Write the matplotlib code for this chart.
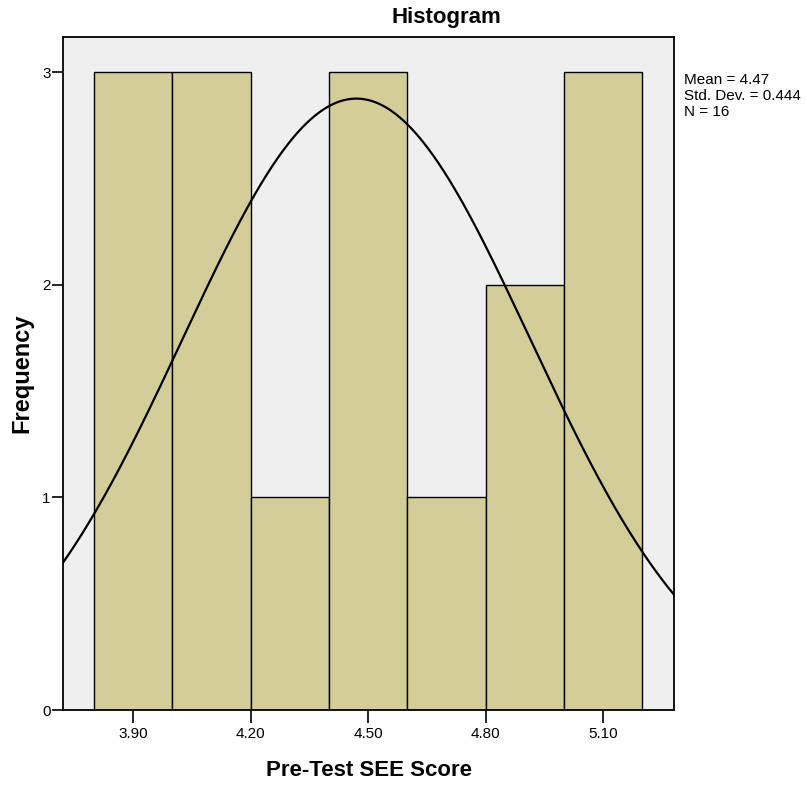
import numpy as np
import matplotlib
matplotlib.use('Agg')
import matplotlib.pyplot as plt

matplotlib.rcParams['font.family'] = ['Liberation Sans Narrow', 'Liberation Sans', 'DejaVu Sans']

# bin edges and counts
bin_edges = [3.80, 4.00, 4.20, 4.40, 4.60, 4.80, 5.00, 5.20]
counts = [3, 3, 1, 3, 1, 2, 3]
mean = 4.47
std = 0.444
n = 16
x_ticks = [3.90, 4.20, 4.50, 4.80, 5.10]
x_tick_labels = ['3.90', '4.20', '4.50', '4.80', '5.10']
y_ticks = [0, 1, 2, 3]

fig = plt.figure(figsize=(8.07, 7.86), dpi=100)
ax = fig.add_axes([63/807, 1-710/786, (674-63)/807, (710-37)/786])
ax.set_facecolor('#efefef')

lefts = bin_edges[:-1]
widths = np.diff(bin_edges)
ax.bar(lefts, counts, width=widths, align='edge', color='#d3ce97',
       edgecolor='black', linewidth=1.0, zorder=2)

# normal curve scaled to counts
xlim = (3.721, 5.281)
xs = np.linspace(xlim[0], xlim[1], 400)
bw = widths[0]
ys = n * bw / (std * np.sqrt(2 * np.pi)) * np.exp(-0.5 * ((xs - mean) / std) ** 2)
ax.plot(xs, ys, color='black', linewidth=1.6, zorder=3)

ax.set_xlim(xlim)
ax.set_ylim(0, 3.165)
ax.set_xticks(x_ticks)
ax.set_xticklabels(x_tick_labels)
ax.set_yticks(y_ticks)
ax.tick_params(axis='x', length=9, width=1.2, labelsize=11, pad=3)
ax.tick_params(axis='y', length=8, width=1.2, labelsize=11, pad=1)
for s in ax.spines.values():
    s.set_linewidth(1.3)

fig.text(446/807, 1-18/786, 'Histogram', fontsize=16, fontweight='bold',
         ha='center', va='center')
ax.set_xlabel('Pre-Test SEE Score', fontsize=16, fontweight='bold')
ax.set_ylabel('Frequency', fontsize=17, fontweight='bold')
ax.xaxis.set_label_coords(0.5, (710-771)/673)
ax.yaxis.set_label_coords((22-63)/611, 0.5)
ax.xaxis.label.set_va('center')
ax.yaxis.label.set_va('center')

fig.text(684/807, 1-73/786, 'Mean = %.2f\nStd. Dev. = %.3f\nN = %d' % (mean, std, n),
         fontsize=11, va='top', ha='left', linespacing=1.2)

plt.savefig('out.png', dpi=100)
